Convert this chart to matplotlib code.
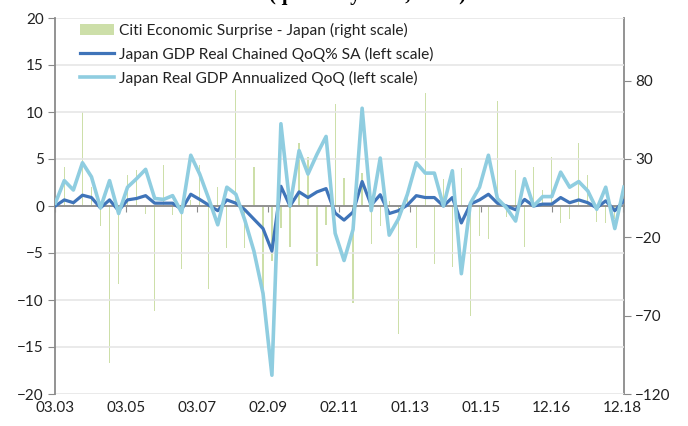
import matplotlib
matplotlib.use('Agg')
import matplotlib.pyplot as plt
import matplotlib.dates as mdates
import pandas as pd

plt.rcParams['font.family'] = ['Lato', 'DejaVu Sans']

# quarterly observations 2003Q1 .. 2018Q4
quarters = pd.date_range('2003-03-31', periods=64, freq='QE')

gdp_qoq = [0.0, 0.65, 0.35, 1.15, 0.9, -0.2, 0.65, -0.5, 0.65, 0.8,
           1.1, 0.3, 0.3, 0.3, -0.35, 1.25, 0.7, 0.1, -0.5, 0.65,
           0.3, -0.4, -1.4, -2.4, -4.8, 2.1, 0.0, 1.5, 0.9, 1.5,
           1.85, -0.75, -1.5, -0.65, 2.6, 0.1, 1.2, -0.8, -0.5, 0.1,
           1.1, 0.9, 0.9, 0.0, 0.9, -1.8, 0.2, 0.65, 1.25, 0.3,
           0.0, -0.4, 0.7, 0.0, 0.2, 0.2, 0.9, 0.35, 0.65, 0.35,
           -0.2, 0.55, -0.5, 0.55]

gdp_ann = [0.3, 2.7, 1.7, 4.6, 3.1, -0.2, 2.7, -0.8, 2.0, 2.9,
           3.9, 0.8, 0.7, 1.1, -0.7, 5.4, 3.4, 0.8, -2.0, 2.0,
           1.25, -1.5, -4.8, -9.3, -18.0, 8.75, 0.0, 5.9, 3.4, 5.5,
           7.4, -2.9, -5.8, -2.5, 10.4, -0.5, 5.1, -3.1, -1.4, 1.25,
           4.6, 3.5, 3.5, 0.0, 3.75, -7.2, 0.3, 2.0, 5.4, 0.8,
           -0.2, -1.6, 2.9, 0.0, 1.0, 1.0, 3.6, 2.0, 2.6, 1.6,
           -0.35, 2.0, -2.4, 2.0]

surprise = [0, 25, 3, 60, 12, -13, -100, -50, 20, 23,
            -5, -67, 26, -6, -40, 4, 26, -53, 12, -27,
            74, -27, 25, -53, -35, -14, -26, 40, 31, -38,
            -12, 65, 18, -62, 21, -24, -13, 3, -82, 5,
            -27, 72, -37, 17, -39, 24, -70, -19, -21, 67,
            -7, 23, -26, 25, 10, 31, -11, -8, 40, 20,
            -10, -11, -8, 5]

tick_dates = pd.date_range('2003-03-28', periods=9, freq='718D')

lbl_bar = 'Citi Economic Surprise - Japan (right scale)'
lbl_qoq = 'Japan GDP Real Chained QoQ% SA (left scale)'
lbl_ann = 'Japan Real GDP Annualized QoQ (left scale)'

txt = '#222222'
spine_c = '#8a8a8a'

fig = plt.figure(figsize=(6.88, 4.26), dpi=100)
ax = fig.add_axes([55/688, 1-394/426, (624-55)/688, (394-18)/426])
ax2 = ax.twinx()
ax.set_zorder(ax2.get_zorder() + 1)
ax.patch.set_visible(False)

bars = ax2.bar(quarters, surprise, width=13, color='#cddfa9', zorder=2)
ax2.set_ylim(-120, 120)
ax2.set_yticks(range(-120, 81, 50))

l1, = ax.plot(quarters, gdp_qoq, color='#3f74b9', lw=2.3, zorder=3)
l2, = ax.plot(quarters, gdp_ann, color='#8fcde0', lw=2.6, zorder=4)

ax.set_ylim(-20, 20)
ax.set_yticks(range(-20, 21, 5))
ax.grid(axis='y', color='#e6e6e6', lw=1.2)
ax.set_xlim(pd.Timestamp('2003-03-28'), pd.Timestamp('2019-01-01'))

# zero line carries the date ticks, labels sit at the bottom
ax.spines['bottom'].set_position(('data', 0))
for a in (ax, ax2):
    a.spines['top'].set_visible(False)
    for s in ('left', 'right', 'bottom'):
        a.spines[s].set_color(spine_c)
        a.spines[s].set_linewidth(1.3)
ax2.spines['bottom'].set_visible(False)
ax2.spines['left'].set_visible(False)
ax.spines['right'].set_visible(False)

ax.set_xticks(mdates.date2num(tick_dates))
ax.tick_params(axis='x', direction='out', length=4, color=spine_c, labelbottom=False)
ax.tick_params(axis='y', direction='out', length=5, color=spine_c, labelsize=11, labelcolor=txt, pad=3)
ax2.tick_params(axis='y', direction='out', length=5, color=spine_c, labelsize=11, labelcolor=txt, pad=3)

sec = ax.secondary_xaxis('bottom')
sec.set_xticks(mdates.date2num(tick_dates))
sec.xaxis.set_major_formatter(mdates.DateFormatter('%m.%y'))
sec.tick_params(length=0, pad=5, labelsize=11, labelcolor=txt)
sec.spines['bottom'].set_visible(False)

ax.legend([bars, l1, l2], [lbl_bar, lbl_qoq, lbl_ann], loc='upper left',
          bbox_to_anchor=(0.044, 0.987), frameon=False, fontsize=11.2,
          handlelength=2.2, handletextpad=0.3, labelspacing=0.57,
          borderpad=0, borderaxespad=0, labelcolor=txt)

fig.text(0.534, 1.0, '(quarterly data, in %)', ha='center', va='baseline',
         fontsize=15, fontweight='bold', family='Liberation Serif')

fig.savefig('out.png', dpi=100)
